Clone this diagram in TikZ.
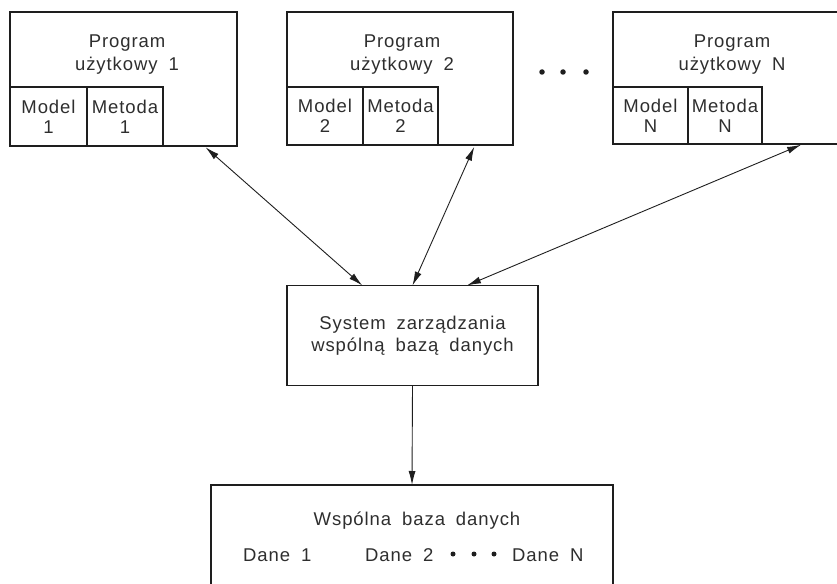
\documentclass[tikz,border=0pt]{standalone}
\usepackage{fontspec}
\setmainfont{Liberation Sans}[LetterSpace=5,WordSpace=1.8]
\usetikzlibrary{arrows.meta,calc}
\definecolor{ink}{HTML}{1E1E1E}
\definecolor{txt}{HTML}{2E2E2E}
\begin{document}
\begin{tikzpicture}[x=1pt,y=-1pt,
  frame/.style={draw=ink, line width=1.8pt, inner sep=0pt, outer sep=0pt},
  cell/.style={frame, line width=1.4pt, align=center, text=txt,
    font=\fontsize{18.5}{20}\selectfont},
  title/.style={align=center, text=txt, inner sep=0pt,
    font=\fontsize{18.5}{23}\selectfont},
  word/.style={text=txt, inner sep=0pt, font=\fontsize{18.5}{20}\selectfont},
  link/.style={draw=ink, line width=0.9pt, {Latex[length=14pt,width=7pt]}-{Latex[length=14pt,width=7pt]}},
  feed/.style={draw=ink, line width=0.9pt, -{Latex[length=14pt,width=7pt]}},
  dot/.style={circle, fill=ink, inner sep=0pt, minimum size=5.5pt}]
\useasboundingbox (0,0) rectangle (837,583);
\clip (0,0) rectangle (837,583);

% application programs
\node[frame, minimum width=227pt, minimum height=134pt] (p1) at (123.5,79) {};
\node[title] (t1) at (127,54.5) {Program\\użytkowy 1};
\node[cell, minimum width=77pt, minimum height=59pt] (m1) at (48.5,116.5) {Model\\1};
\node[cell, minimum width=76pt, minimum height=59pt] (e1) at (125,116.5) {Metoda\\1};

\node[frame, minimum width=226pt, minimum height=133pt] (p2) at (400,78.5) {};
\node[title] (t2) at (402,54.5) {Program\\użytkowy 2};
\node[cell, minimum width=76pt, minimum height=58pt] (m2) at (325,116) {Model\\2};
\node[cell, minimum width=75pt, minimum height=58pt] (e2) at (400.5,116) {Metoda\\2};

\node[frame, minimum width=238pt, minimum height=132pt] (p3) at (732,78) {};
\node[title] (t3) at (732,54.5) {Program\\użytkowy N};
\node[cell, minimum width=75pt, minimum height=57pt] (m3) at (650.5,115.5) {Model\\N};
\node[cell, minimum width=74pt, minimum height=57pt] (e3) at (725,115.5) {Metoda\\N};

% ellipsis between programs
\node[dot] (g1) at (542,72) {};
\node[dot] (g2) at (563,72) {};
\node[dot] (g3) at (586,72) {};

% database management system
\node[frame, minimum width=251pt, minimum height=100pt, align=center,
  text=txt, font=\fontsize{18.5}{22}\selectfont] (sys) at (412.5,335.5)
  {System zarządzania\\wspólną bazą danych};

% common database
\node[frame, minimum width=402pt, minimum height=140pt] (db) at (412,555) {};
\node[word, anchor=base] (dbt) at (417,525) {Wspólna baza danych};
\node[word, anchor=base west] (d1) at (243,561) {Dane 1};
\node[word, anchor=base west] (d2) at (365,561) {Dane 2};
\node[word, anchor=base west] (dn) at (512,561) {Dane N};
\node[dot, minimum size=5pt] (h1) at (453,554) {};
\node[dot, minimum size=5pt] (h2) at (474,554) {};
\node[dot, minimum size=5pt] (h3) at (494,554) {};

% connectors
\draw[link, shorten <=2pt] ($(p1.south west)!0.855!(p1.south east)$) -- ($(sys.north west)!0.3!(sys.north east)$);
\draw[link, shorten <=2pt] ($(p2.south west)!0.832!(p2.south east)$) -- (sys.north);
\draw[link, shorten <=2pt] ($(p3.south west)!0.798!(p3.south east)$) -- ($(sys.north west)!0.717!(sys.north east)$);
\draw[feed] (sys.south) -- (db.north);
\end{tikzpicture}
\end{document}
